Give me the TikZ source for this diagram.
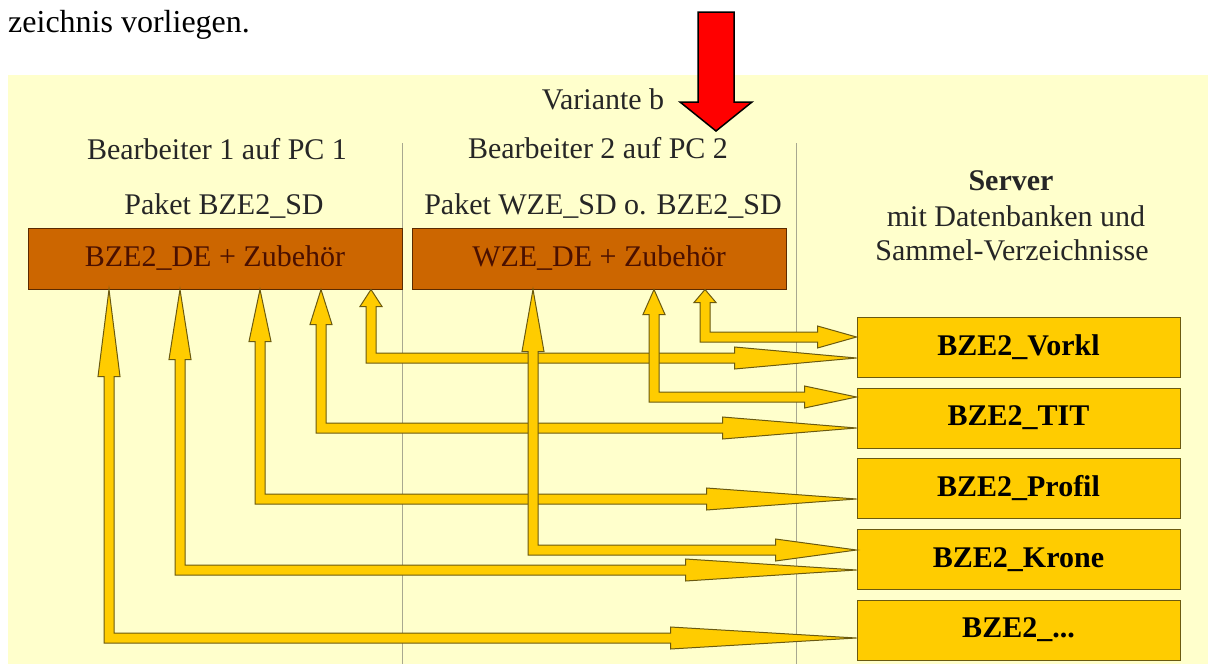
\documentclass[tikz,border=0pt]{standalone}
\usepackage{fontspec}
\setmainfont{Liberation Serif}
\usetikzlibrary{calc}

\definecolor{panel}{HTML}{FFFFCC}
\definecolor{rust}{HTML}{CC6600}
\definecolor{rustline}{HTML}{5A2A00}
\definecolor{rusttext}{HTML}{4A1000}
\definecolor{gold}{HTML}{FFCC00}
\definecolor{goldline}{HTML}{6B5A10}
\definecolor{divider}{HTML}{A8A890}

\tikzset{
  lbl/.style={font=\fontsize{30}{36}\selectfont, text=black!85, inner sep=0pt, anchor=base},
  pcbox/.style={draw=rustline, fill=rust, text=rusttext, line width=1pt, minimum width=374pt,
    minimum height=61pt, inner sep=0pt, font=\fontsize{30}{36}\selectfont},
  dbbox/.style={draw=goldline, fill=gold, line width=1pt, minimum width=323pt,
    minimum height=60pt, inner sep=0pt, font=\fontsize{30}{36}\selectfont\bfseries},
  elbowarrow/.style={draw=goldline, fill=gold, line width=1pt, line join=miter}
}

% #1 pc box, #2 x of riser, #3 server box, #4 shift, #5 head up, #6 head right
\newcommand{\elbow}[6]{%
  \fill[elbowarrow] let \p1=(#1.south), \p2=(#3.west), \p3=($(#3.west)+(0pt,#4)$) in
    (#2-5pt,\y3-5pt) -- (#2-5pt,\y1-#5) -- (#2-11pt,\y1-#5) -- (#2,\y1)
    -- (#2+11pt,\y1-#5) -- (#2+5pt,\y1-#5) -- (#2+5pt,\y3+5pt)
    -- (\x2-#6,\y3+5pt) -- (\x2-#6,\y3+11pt) -- (\x2,\y3)
    -- (\x2-#6,\y3-11pt) -- (\x2-#6,\y3-5pt) -- cycle;}

\begin{document}
\begin{tikzpicture}[x=1pt, y=-1pt]
  \fill[white] (0,0) rectangle (1208,664);
  \useasboundingbox (0,0) rectangle (1208,664);
  \fill[panel] (8,75) rectangle (1208,664);

  \node[lbl, anchor=base west, text=black, font=\fontsize{32}{38}\selectfont] (intro) at (8,32) {zeichnis vorliegen.};

  \draw[divider, line width=0.8pt] (402,143) -- (402,664);
  \draw[divider, line width=0.8pt] (796,143) -- (796,664);

  \node[lbl] (variant) at (603,109) {Variante b};
  \node[lbl] (user1) at (217,159) {Bearbeiter 1 auf PC 1};
  \node[lbl] (user2) at (598,158) {Bearbeiter 2 auf PC 2};
  \node[lbl] (pkg1) at (224,214) {Paket BZE2\_SD};
  \node[lbl] (pkg2) at (603,214) {Paket WZE\_SD o. BZE2\_SD};

  \node[lbl, font=\fontsize{30}{36}\selectfont\bfseries] (server) at (1011,190) {Server};
  \node[lbl] (server2) at (1016,226) {mit Datenbanken und};
  \node[lbl] (server3) at (1012,260) {Sammel-Verzeichnisse};

  \node[pcbox] (pcbox1) at (215,258.5) {BZE2\_DE + Zubehör};
  \node[pcbox] (pcbox2) at (599,258.5) {WZE\_DE + Zubehör};

  \node[dbbox] (vorkl)  at (1018.5,347.5) {BZE2\_Vorkl};
  \node[dbbox] (tit)    at (1018.5,418)   {BZE2\_TIT};
  \node[dbbox] (profil) at (1018.5,488.5) {BZE2\_Profil};
  \node[dbbox] (krone)  at (1018.5,559.5) {BZE2\_Krone};
  \node[dbbox] (rest)   at (1018.5,630)   {BZE2\_...};

  \elbow{pcbox1}{109pt}{rest}{-8pt}{87pt}{186pt}
  \elbow{pcbox1}{180pt}{krone}{-10.5pt}{70pt}{171pt}
  \elbow{pcbox1}{260pt}{profil}{-10.5pt}{52pt}{150pt}
  \elbow{pcbox1}{321pt}{tit}{-10pt}{35pt}{134pt}
  \elbow{pcbox1}{371pt}{vorkl}{-10.5pt}{17pt}{122pt}
  \elbow{pcbox2}{533pt}{krone}{9.5pt}{62pt}{81pt}
  \elbow{pcbox2}{654pt}{tit}{21pt}{25pt}{52pt}
  \elbow{pcbox2}{705pt}{vorkl}{10.5pt}{13pt}{39pt}

  \draw[fill=red, line width=1.5pt, line join=miter] (698,12) -- (734,12) -- (734,102)
    -- (752,102) -- (716,131) -- (680,102) -- (698,102) -- cycle;
\end{tikzpicture}
\end{document}
